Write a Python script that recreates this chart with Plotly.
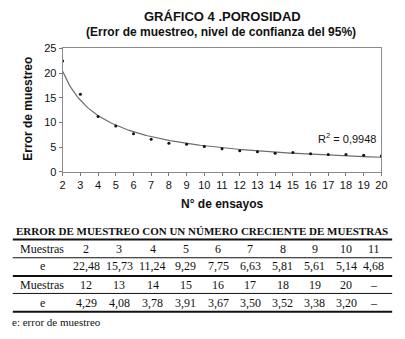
import numpy as np
import plotly.graph_objects as go

# Sampling error vs. number of trials (porosity)
ensayos = list(range(2, 21))
errores = [22.48, 15.73, 11.24, 9.29, 7.75, 6.63, 5.81, 5.61, 5.14, 4.68,
           4.29, 4.08, 3.78, 3.91, 3.67, 3.50, 3.52, 3.38, 3.20]
r2_texto = "0,9948"

titulo = "GRÁFICO 4 .POROSIDAD"
subtitulo = "(Error de muestreo, nivel de confianza del 95%)"
titulo_tabla = "ERROR DE MUESTREO CON UN NÚMERO CRECIENTE DE MUESTRAS"
nota = "e: error de muestreo"

W, H = 405, 339


def px(x):
    return x / W


def py(y):
    return 1 - y / H


# Power-law trend line (least squares in log-log space)
b, log_a = np.polyfit(np.log(ensayos), np.log(errores), 1)
xs = np.linspace(2, 20, 200)
ys = np.exp(log_a) * xs ** b

fig = go.Figure()
fig.add_trace(go.Scatter(x=xs, y=ys, mode="lines",
                         line=dict(color="#6e6e6e", width=1.2),
                         hoverinfo="skip", showlegend=False))
fig.add_trace(go.Scatter(x=ensayos, y=errores, mode="markers",
                         marker=dict(color="#111", size=3),
                         showlegend=False))

sans = "Liberation Sans, Arial, sans-serif"
serif = "Liberation Serif, Times New Roman, serif"

fig.update_layout(
    width=W, height=H,
    margin=dict(l=0, r=0, t=0, b=0),
    paper_bgcolor="white", plot_bgcolor="white",
    font=dict(family=sans, color="#111"),
    xaxis=dict(domain=[px(61), px(387)], range=[2, 20], dtick=1,
               showgrid=False, zeroline=False,
               showline=True, linecolor="#8a8a8a", linewidth=1, mirror=True,
               ticks="outside", ticklen=3, tickcolor="#777",
               tickfont=dict(size=11, family=sans, color="#111")),
    yaxis=dict(domain=[py(172), py(44)], range=[0, 25], dtick=5,
               showgrid=False, zeroline=False,
               showline=True, linecolor="#8a8a8a", linewidth=1, mirror=True,
               ticks="outside", ticklen=3, tickcolor="#777",
               tickfont=dict(size=11, family=sans, color="#111")),
)

ann = []


def texto(x, y, s, size, family=sans, bold=False, anchor="center", angle=0):
    if bold:
        s = f"<b>{s}</b>"
    ann.append(dict(x=px(x), y=py(y), xref="paper", yref="paper", text=s,
                    showarrow=False, xanchor=anchor, yanchor="middle",
                    textangle=angle,
                    font=dict(size=size, family=family, color="#111")))


# Chart titles and axis labels
texto(224, 11, titulo, 13, bold=True)
texto(223, 27, subtitulo, 12, bold=True)
texto(26, 106, "Error de muestreo", 12, bold=True, angle=-90)
texto(224, 205, "N° de ensayos", 12, bold=True)
texto(352, 137, f"R<sup>2</sup> = {r2_texto}", 11)

# Table below the chart
texto(11, 233, titulo_tabla, 11, family=serif, bold=True, anchor="left")
col_x = [85, 119, 153, 187, 220, 253, 286, 319, 351, 379]


def fmt(v):
    return f"{v:.2f}".replace(".", ",")


filas = [
    (ensayos[:10], errores[:10], 252, 270),
    (ensayos[10:] + ["–"], [fmt(v) for v in errores[10:]] + ["–"], 289, 308),
]
for i, (ms, es, y_m, y_e) in enumerate(filas):
    texto(40, y_m, "Muestras", 12, family=serif)
    texto(40, y_e, "e", 12, family=serif)
    for j, x in enumerate(col_x):
        m = ms[j]
        e = es[j] if i == 1 else fmt(es[j])
        texto(x, y_m, str(m), 12, family=serif)
        texto(x, y_e, str(e), 12, family=serif)

texto(7, 328, nota, 11, family=serif, anchor="left")
fig.update_layout(annotations=ann)

# Table rules
shapes = []
for y, w in [(242, 2), (261, 1), (280, 2), (298, 1), (317, 2)]:
    shapes.append(dict(type="line", xref="paper", yref="paper",
                       x0=px(10), x1=px(398), y0=py(y), y1=py(y),
                       line=dict(color="#111", width=w)))
fig.update_layout(shapes=shapes)

fig.write_html("out.html")
